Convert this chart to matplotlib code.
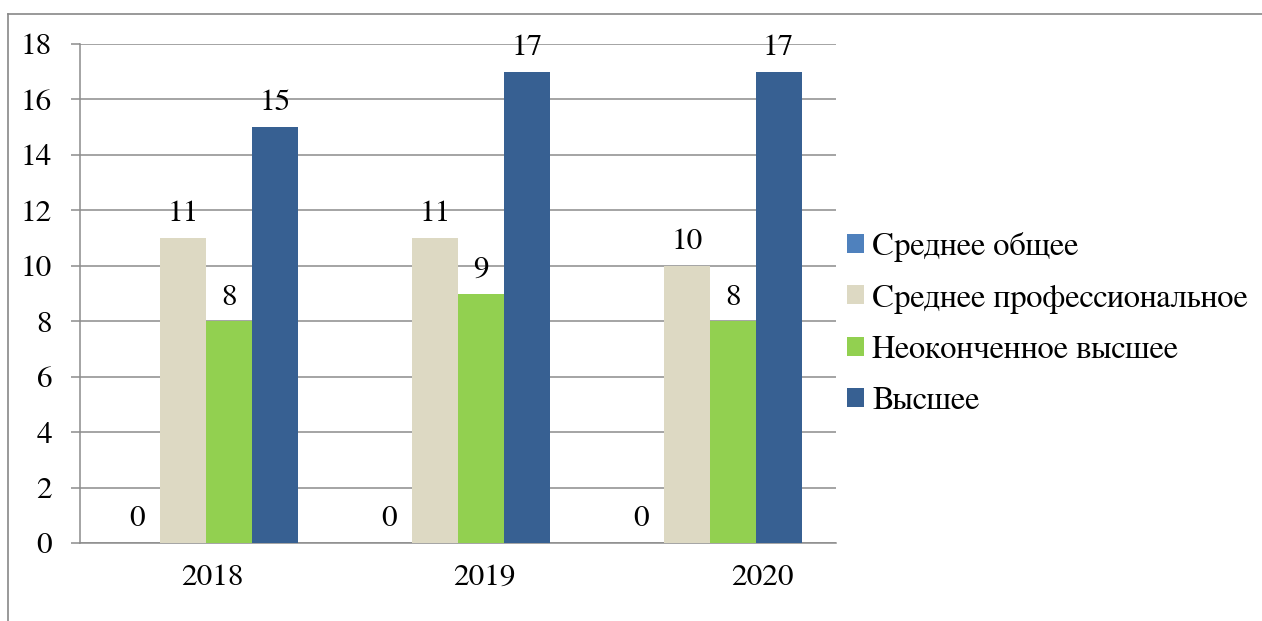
import matplotlib.pyplot as plt
import numpy as np
from matplotlib.lines import Line2D
from matplotlib.patches import Patch
from matplotlib.transforms import ScaledTranslation

plt.rcParams["font.family"] = "serif"
plt.rcParams["font.serif"] = ["FreeSerif", "Liberation Serif", "DejaVu Serif"]

years = ["2018", "2019", "2020"]
series_names = [
    "Среднее общее",
    "Среднее профессиональное",
    "Неоконченное высшее",
    "Высшее",
]
general_secondary = [0, 0, 0]
vocational = [11, 11, 10]
incomplete_higher = [8, 9, 8]
higher = [15, 17, 17]
series_values = [general_secondary, vocational, incomplete_higher, higher]
colors = ["#4F81BD", "#DDD9C3", "#92D050", "#376092"]
y_ticks = list(range(0, 19, 2))

GRID_COLOR = "#8C8C8C"

fig = plt.figure(figsize=(12.62, 6.21), dpi=100)
ax = fig.add_axes([0.0634, 0.1256, 0.599, 0.8035])

x = np.arange(len(years))
bar_width = 1 / (len(series_values) + 1.5)

for index, (name, values, color) in enumerate(zip(series_names, series_values, colors)):
    offset = (index - (len(series_values) - 1) / 2) * bar_width
    bars = ax.bar(x + offset, values, bar_width, color=color, label=name, zorder=3)
    ax.bar_label(bars, labels=[str(v) for v in values], padding=7, fontsize=22.5)

ax.set_xlim(-0.5, len(years) - 0.5)
ax.set_ylim(0, 18)
ax.set_yticks(y_ticks)
ax.set_yticklabels([str(t) for t in y_ticks], fontsize=22.5)
ax.set_xticks(x)
ax.set_xticklabels([])

# the year labels in the source sit a little right of the group centres
label_shift_px = [6, 26, 52]
for pos, year, shift in zip(x, years, label_shift_px):
    ax.text(
        pos, 0, year,
        transform=ax.get_xaxis_transform() + ScaledTranslation(shift / 100, -0.21, fig.dpi_scale_trans),
        ha="center", va="top", fontsize=22.5,
    )

ax.tick_params(axis="y", length=6.5, width=1.1, color=GRID_COLOR, pad=13.5)
ax.tick_params(axis="x", length=0)
ax.yaxis.grid(True, color=GRID_COLOR, linewidth=1.1, zorder=0)
ax.set_axisbelow(True)

for side in ["top", "right"]:
    ax.spines[side].set_visible(False)
for side in ["left", "bottom"]:
    ax.spines[side].set_color(GRID_COLOR)
    ax.spines[side].set_linewidth(1.1)

handles = [Patch(facecolor=c, edgecolor="none") for c in colors]
fig.legend(
    handles,
    series_names,
    loc="center left",
    bbox_to_anchor=(0.6585, 0.478),
    frameon=False,
    fontsize=23.5,
    handlelength=0.52,
    handleheight=0.52,
    handletextpad=0.25,
    labelspacing=0.67,
    borderpad=0,
)

# outer frame of the chart area (only top and left edges are visible)
fig.add_artist(Line2D([0.0067, 0.0067], [0, 0.9775], color="#888888", linewidth=1.2, transform=fig.transFigure))
fig.add_artist(Line2D([0.0067, 1.0], [0.9775, 0.9775], color="#888888", linewidth=1.2, transform=fig.transFigure))

fig.savefig("out.png", dpi=100)
